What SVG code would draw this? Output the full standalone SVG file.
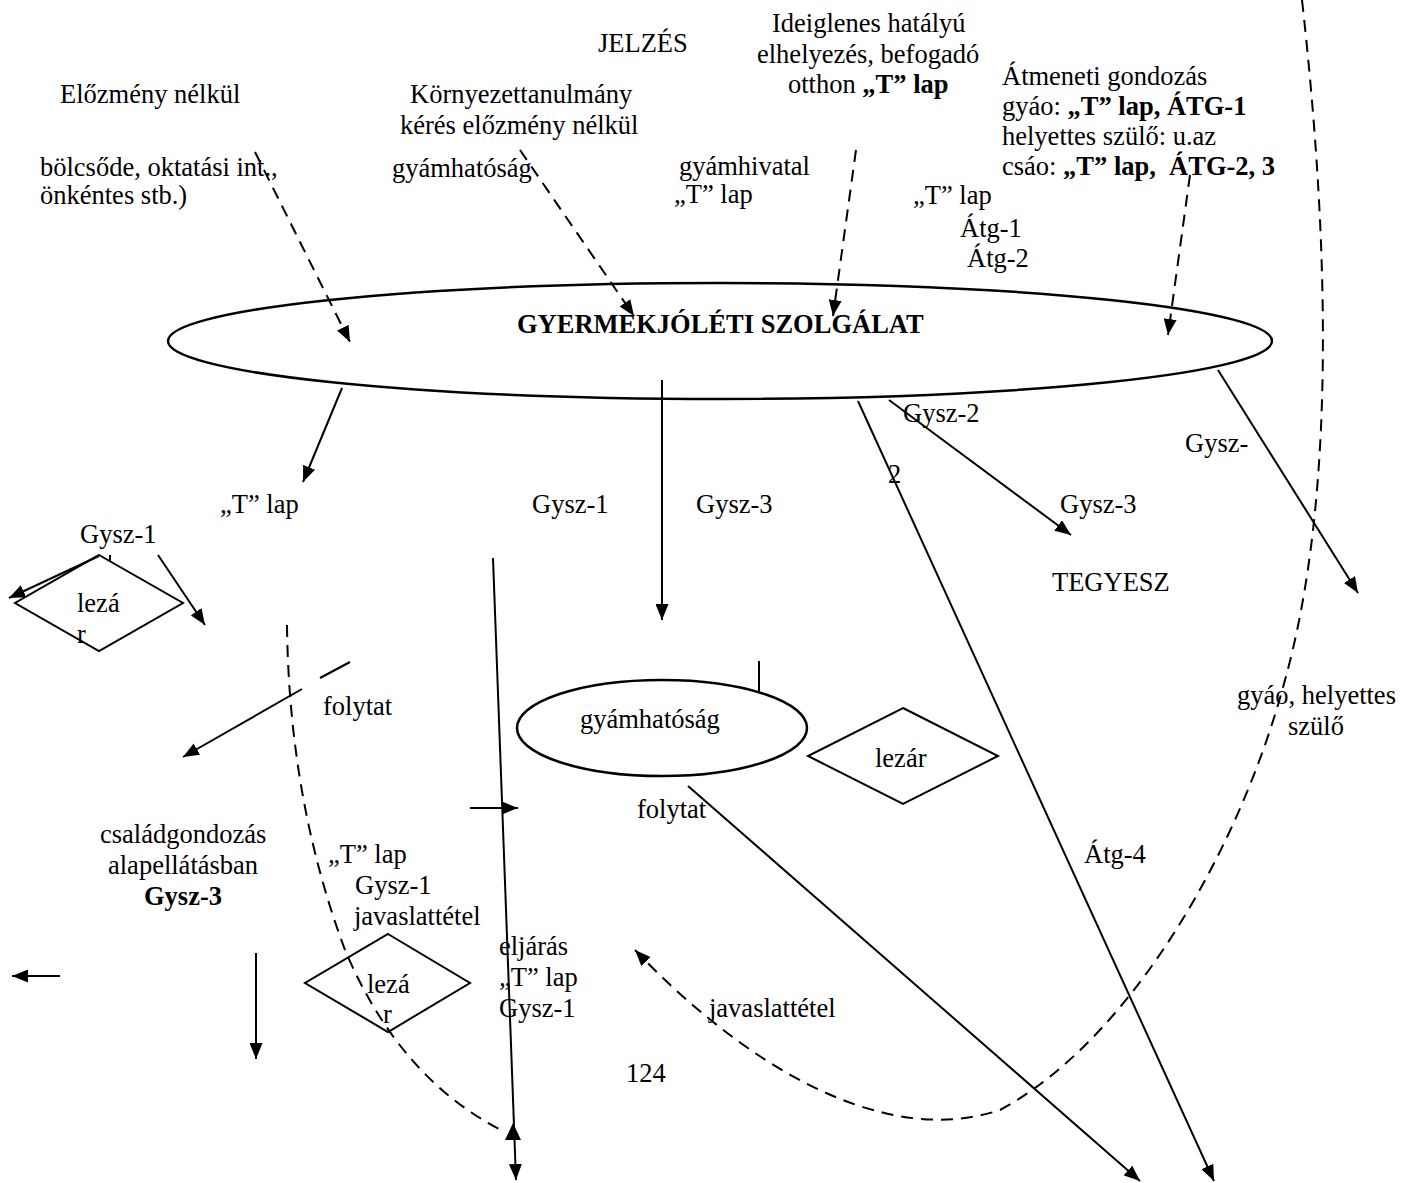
<svg xmlns="http://www.w3.org/2000/svg" width="1410" height="1183" viewBox="0 0 1410 1183">
<style>
text{font-family:"Liberation Serif","Times New Roman",serif;font-size:26.5px;fill:#000}
.b{font-weight:bold}
.ln{stroke:#000;stroke-width:2;fill:none}
.ds{stroke:#000;stroke-width:2;fill:none;stroke-dasharray:12 8}
.sh{stroke:#000;stroke-width:2.5;fill:none}
</style>
<defs>
<marker id="ah" viewBox="0 0 16 13" refX="16" refY="6.5" markerWidth="16" markerHeight="13" markerUnits="userSpaceOnUse" orient="auto">
<path d="M0,0 L16,6.5 L0,13 z" fill="#000" stroke="none"/>
</marker>
</defs>
<rect width="1410" height="1183" fill="#fff"/>

<g id="connectors">
<line class="ds" x1="255" y1="152" x2="350" y2="342" marker-end="url(#ah)"/>
<line class="ds" x1="520" y1="150" x2="634" y2="316" marker-end="url(#ah)"/>
<line class="ds" x1="856" y1="150" x2="833" y2="316" marker-end="url(#ah)"/>
<line class="ds" x1="1190" y1="175" x2="1168" y2="335" marker-end="url(#ah)"/>
<path class="ds" d="M1302,0 C1330,250 1335,500 1285,680 C1240,850 1130,1040 1000,1110 C880,1150 740,1060 635,950" marker-end="url(#ah)"/>
<path class="ds" d="M287,625 Q289,800 345,950 Q400,1080 505,1132"/>
<polygon points="513,1123 505,1140 521,1140" fill="#000"/>
<line class="ln" x1="342" y1="388" x2="303" y2="482" marker-end="url(#ah)"/>
<line class="ln" x1="662" y1="380" x2="662" y2="620" marker-end="url(#ah)"/>
<line class="ln" x1="858" y1="401" x2="1214" y2="1181" marker-end="url(#ah)"/>
<line class="ln" x1="889" y1="400" x2="1071" y2="535" marker-end="url(#ah)"/>
<line class="ln" x1="1218" y1="370" x2="1358" y2="593" marker-end="url(#ah)"/>
<line class="ln" x1="99" y1="556" x2="9" y2="598" marker-end="url(#ah)"/>
<line class="ln" x1="110" y1="555" x2="110" y2="562"/>
<line class="ln" x1="158" y1="555" x2="205" y2="625" marker-end="url(#ah)"/>
<line class="ln" x1="350" y1="662" x2="320" y2="678"/>
<line class="ln" x1="302" y1="689" x2="183" y2="757" marker-end="url(#ah)"/>
<line class="ln" x1="493" y1="558" x2="516" y2="1180" marker-end="url(#ah)"/>
<line class="ln" x1="470" y1="808" x2="518" y2="808" marker-end="url(#ah)"/>
<line class="ln" x1="759" y1="661" x2="759" y2="692"/>
<line class="ln" x1="688" y1="786" x2="1140" y2="1181" marker-end="url(#ah)"/>
<line class="ln" x1="60" y1="976" x2="12" y2="976" marker-end="url(#ah)"/>
<line class="ln" x1="256" y1="953" x2="256" y2="1059" marker-end="url(#ah)"/>
</g>

<g id="node-gyermekjoleti">
<ellipse class="sh" cx="720" cy="341" rx="552" ry="58"/>
<text class="b" x="517" y="333">GYERMEKJÓLÉTI SZOLGÁLAT</text>
</g>
<g id="node-gyamhatosag">
<ellipse class="sh" cx="662" cy="728" rx="145" ry="48"/>
<text x="580" y="728">gyámhatóság</text>
</g>
<g id="node-lezar-1">
<polygon class="ln" points="99,555 183,603 99,651 15,603"/>
<text x="77" y="612">lezá</text>
<text x="77" y="643">r</text>
</g>
<g id="node-lezar-2">
<polygon class="ln" points="388,934 470,983 388,1032 305,983" fill="#fff"/>
<text x="367" y="993">lezá</text>
<text x="383" y="1023">r</text>
</g>
<g id="node-lezar-3">
<polygon class="ln" points="903,708 998,756 903,804 808,756"/>
<text x="875" y="767">lezár</text>
</g>

<g id="labels">
<text x="60" y="103">Előzmény nélkül</text>
<text x="40" y="176">bölcsőde, oktatási int.,</text>
<text x="40" y="204">önkéntes stb.)</text>
<text x="410" y="103">Környezettanulmány</text>
<text x="400" y="134">kérés előzmény nélkül</text>
<text x="392" y="177">gyámhatóság</text>
<text x="598" y="52">JELZÉS</text>
<text x="679" y="175">gyámhivatal</text>
<text x="674" y="203">„T” lap</text>
<text x="772" y="32">Ideiglenes hatályú</text>
<text x="757" y="63">elhelyezés, befogadó</text>
<text x="788" y="93">otthon <tspan class="b">„T” lap</tspan></text>
<text x="1002" y="85">Átmeneti gondozás</text>
<text x="1002" y="115">gyáo: <tspan class="b">„T” lap, ÁTG-1</tspan></text>
<text x="1002" y="145">helyettes szülő: u.az</text>
<text x="1002" y="175" xml:space="preserve">csáo: <tspan class="b">„T” lap,  ÁTG-2, 3</tspan></text>
<text x="913" y="204">„T” lap</text>
<text x="960" y="237">Átg-1</text>
<text x="967" y="267">Átg-2</text>
<text x="220" y="513">„T” lap</text>
<text x="80" y="543">Gysz-1</text>
<text x="323" y="715">folytat</text>
<text x="532" y="513">Gysz-1</text>
<text x="696" y="513">Gysz-3</text>
<text x="903" y="422">Gysz-2</text>
<text x="888" y="483">2</text>
<text x="1185" y="452">Gysz-</text>
<text x="1060" y="513">Gysz-3</text>
<text x="1052" y="591">TEGYESZ</text>
<text x="1237" y="704">gyáo, helyettes</text>
<text x="1288" y="735">szülő</text>
<text x="637" y="818">folytat</text>
<text x="1084" y="863">Átg-4</text>
<text x="100" y="843">családgondozás</text>
<text x="108" y="874">alapellátásban</text>
<text class="b" x="144" y="905">Gysz-3</text>
<text x="328" y="863">„T” lap</text>
<text x="355" y="894">Gysz-1</text>
<text x="354" y="925">javaslattétel</text>
<text x="499" y="955">eljárás</text>
<text x="499" y="986">„T” lap</text>
<text x="499" y="1017">Gysz-1</text>
<text x="709" y="1017">javaslattétel</text>
<text x="626" y="1082">124</text>
</g>
</svg>
